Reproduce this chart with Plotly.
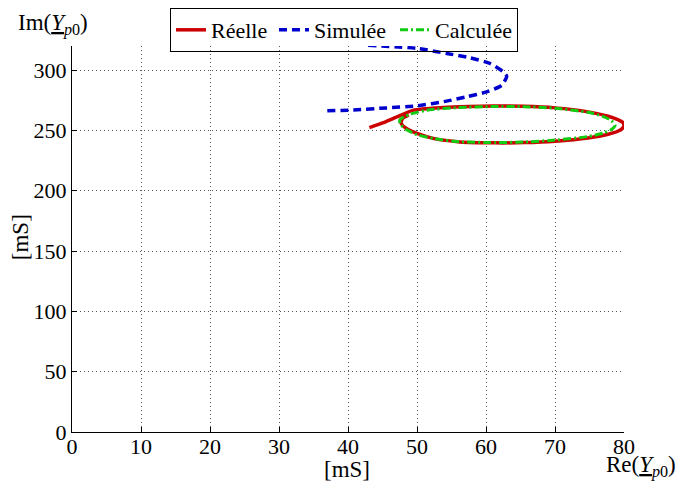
import plotly.graph_objects as go

# Réelle (red, solid)
reelle_x = [43.1, 45.0, 47.0, 49.5, 53.8, 57.5, 61.0, 65.5, 70.0, 74.8, 77.7, 79.1, 79.8, 80.0, 79.8, 79.1, 77.7, 74.8, 70.0, 65.5, 61.3, 56.2, 52.5, 50.0, 48.4, 47.7, 47.9, 48.8]
reelle_y = [252.4, 256.2, 261.0, 266.8, 269.0, 269.9, 270.3, 270.0, 268.7, 265.4, 261.8, 259.0, 256.8, 254.3, 251.8, 249.3, 246.8, 243.8, 241.1, 239.9, 239.7, 240.5, 243.2, 247.5, 251.8, 256.0, 259.8, 262.8]

# Simulée (blue, dashed)
simulee_x = [42.9, 50.0, 54.3, 57.7, 60.6, 62.5, 63.0, 62.3, 60.1, 57.2, 54.3, 50.0, 45.6, 40.8, 37.0]
simulee_y = [320.6, 318.0, 313.8, 310.2, 305.5, 298.6, 295.0, 287.5, 282.0, 277.9, 274.3, 270.4, 268.7, 267.0, 266.3]

# Calculée (green, dash-dot)
calculee_x = [49.0, 51.4, 56.2, 61.0, 65.5, 70.0, 74.8, 77.0, 78.2, 78.7, 78.2, 77.0, 74.8, 70.0, 65.5, 61.3, 56.2, 52.5, 50.0, 48.5, 47.6, 47.5, 48.2, 49.0]
calculee_y = [263.5, 266.8, 269.0, 269.8, 269.7, 268.4, 265.0, 261.5, 258.0, 254.3, 250.8, 247.8, 245.0, 242.0, 240.4, 240.0, 240.6, 243.2, 246.5, 250.5, 255.0, 258.8, 261.5, 263.5]

x_ticks = [0, 10, 20, 30, 40, 50, 60, 70, 80]
y_ticks = [0, 50, 100, 150, 200, 250, 300]

FONT = "Liberation Serif"

fig = go.Figure()
fig.add_trace(go.Scatter(x=reelle_x, y=reelle_y, mode="lines", name="Réelle", legendwidth=58,
                         line=dict(color="#cc0000", width=3.5, shape="spline", smoothing=0.6)))
fig.add_trace(go.Scatter(x=simulee_x, y=simulee_y, mode="lines", name="Simulée", legendwidth=76,
                         line=dict(color="#0000cc", width=3.5, dash="8px,5px", shape="spline", smoothing=0.6)))
fig.add_trace(go.Scatter(x=calculee_x, y=calculee_y, mode="lines", name="Calculée",
                         line=dict(color="#11cc11", width=3, dash="8px,3px,2px,3px", shape="spline", smoothing=0.6)))

axis_common = dict(
    showline=True, linecolor="black", linewidth=1,
    ticks="inside", ticklen=5, tickcolor="black",
    showgrid=True, gridcolor="#555555", gridwidth=1, griddash="1px,3px",
    zeroline=False, mirror=False,
    tickfont=dict(family=FONT, size=22, color="black"),
)

fig.update_xaxes(range=[0, 80], tickvals=x_ticks, ticklabelstandoff=-5, **axis_common)
fig.update_yaxes(range=[0, 320], tickvals=y_ticks, **axis_common)

fig.update_layout(
    width=679, height=478,
    margin=dict(l=64, r=63, t=38, b=54, autoexpand=False),
    plot_bgcolor="white", paper_bgcolor="white",
    font=dict(family=FONT, size=22, color="black"),
    showlegend=True,
    legend=dict(orientation="h", x=0.1775, xanchor="left", y=1.0984, yanchor="top",
                bordercolor="black", borderwidth=1, bgcolor="rgba(255,255,255,0)",
                font=dict(family=FONT, size=22), itemwidth=30,
                tracegroupgap=0),
    annotations=[
        dict(text="Im(<u><i>Y</i></u><sub><i>p</i>0</sub>)", xref="paper", yref="paper",
             x=-0.1014, y=1.0984, xanchor="left", yanchor="top", showarrow=False,
             font=dict(family=FONT, size=23)),
        dict(text="[mS]", xref="paper", yref="paper", x=-0.094, y=0.505,
             xanchor="center", yanchor="middle", textangle=-90, showarrow=False,
             font=dict(family=FONT, size=23)),
        dict(text="[mS]", xref="paper", yref="paper", x=0.499, y=-0.096,
             xanchor="center", yanchor="middle", showarrow=False,
             font=dict(family=FONT, size=23)),
        dict(text="Re(<u><i>Y</i></u><sub><i>p</i>0</sub>)", xref="paper", yref="paper",
             x=0.964, y=-0.09, xanchor="left", yanchor="middle", showarrow=False,
             font=dict(family=FONT, size=23)),
    ],
)

fig.write_html("out.html")
